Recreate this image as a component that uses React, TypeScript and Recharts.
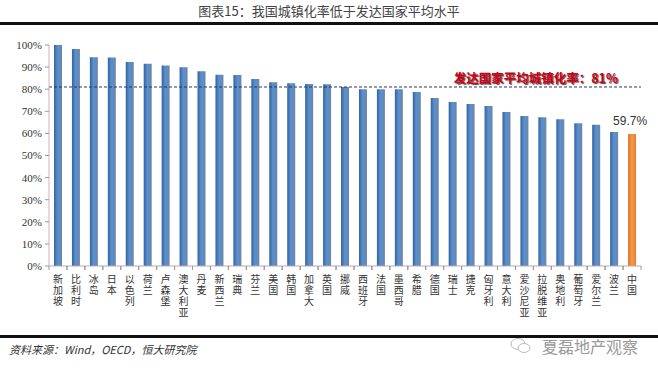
import React from 'react';
import { BarChart, Bar, XAxis, YAxis, ReferenceLine, Cell, LabelList } from 'recharts';

const countries = ['新加坡','比利时','冰岛','日本','以色列','荷兰','卢森堡','澳大利亚','丹麦','新西兰','瑞典','芬兰','美国','韩国','加拿大','英国','挪威','西班牙','法国','墨西哥','希腊','德国','瑞士','捷克','匈牙利','意大利','爱沙尼亚','拉脱维亚','奥地利','葡萄牙','爱尔兰','波兰','中国'];
const urbanRate = [100,98.2,94.5,94.3,92.3,91.5,90.7,89.9,88.1,86.5,86.4,84.6,83.2,82.7,82.3,82.2,81.0,80.0,80.0,80.0,78.7,76.0,74.2,73.3,72.4,69.7,67.9,67.3,66.4,64.6,63.9,60.6,59.7];
const yTicks = [0,10,20,30,40,50,60,70,80,90,100];
const developedAvg = 81;
const title = '图表15：我国城镇化率低于发达国家平均水平';
const avgLabel = '发达国家平均城镇化率：81%';
const source = '资料来源：Wind，OECD，恒大研究院';
const watermark = '夏磊地产观察';

const data = countries.map((c, i) => ({ name: c, value: urbanRate[i] }));
const HALF_BAND = 8.97;

const XTick = (props: any) => {
  const { x, y, payload } = props;
  const chars = String(payload.value).split('');
  const top = y - 8;
  return (
    <g>
      <line x1={x - HALF_BAND} x2={x - HALF_BAND} y1={top} y2={top + 4} stroke="#999" />
      <line x1={x + HALF_BAND} x2={x + HALF_BAND} y1={top} y2={top + 4} stroke="#999" />
      {chars.map((ch, i) => (
        <text key={i} x={x} y={top + 17 + i * 11} textAnchor="middle" fontSize={10} fill="#333" fontFamily="'Noto Sans CJK SC'">
          {ch}
        </text>
      ))}
    </g>
  );
};

const AvgLabel = (props: any) => {
  const { viewBox } = props;
  return (
    <text x={viewBox.x + viewBox.width - 23} y={viewBox.y - 4} textAnchor="end" fontSize={12.5} fontWeight="bold"
      fill="#d00018" fontFamily="'Noto Sans CJK SC'" style={{ textShadow: '1px 1px 1px #444' }}>
      {avgLabel}
    </text>
  );
};

const ChinaLabel = (props: any) => {
  const { x, y, width, index, value } = props;
  if (index !== countries.length - 1) return null;
  return (
    <text x={x + width / 2 - 2} y={y - 9} textAnchor="middle" fontSize={12} fill="#333" fontFamily="'Liberation Sans', Arial">
      {`${value}%`}
    </text>
  );
};

export default function App() {
  return (
    <div style={{ position: 'absolute', left: 0, top: 0, width: 658, height: 375, background: '#fff' }}>
      <div style={{ position: 'absolute', left: 0, top: 3, width: 658, textAlign: 'center', fontSize: 13, color: '#444', fontFamily: "'Noto Sans CJK SC'", lineHeight: '16px' }}>
        {title}
      </div>
      <div style={{ position: 'absolute', left: 0, top: 22, width: 658, height: 3, background: '#111' }} />
      <BarChart width={658} height={375} data={data} margin={{ top: 45, right: 17, bottom: 0, left: 0 }} barCategoryGap={0}>
        <defs>
          <linearGradient id="blueBar" x1="0" y1="0" x2="1" y2="0">
            <stop offset="0%" stopColor="#33629f" />
            <stop offset="45%" stopColor="#5a90d0" />
            <stop offset="100%" stopColor="#6a86a8" />
          </linearGradient>
          <linearGradient id="orangeBar" x1="0" y1="0" x2="1" y2="0">
            <stop offset="0%" stopColor="#e0702a" />
            <stop offset="50%" stopColor="#f79b45" />
            <stop offset="100%" stopColor="#e07f35" />
          </linearGradient>
        </defs>
        <XAxis dataKey="name" interval={0} tickLine={false} axisLine={{ stroke: '#b8a8b0' }} tick={<XTick />} height={109} />
        <YAxis domain={[0, 100]} ticks={yTicks} tickFormatter={(v: number) => `${v}%`} width={49}
          axisLine={{ stroke: '#c9b4bc' }} tickLine={{ stroke: '#999' }} tickSize={4} tickMargin={3}
          tick={{ fontSize: 11, fill: '#333', fontFamily: "'Liberation Serif', serif" }} />
        <ReferenceLine y={developedAvg} stroke="#2a3560" strokeDasharray="3 2" strokeWidth={1} label={<AvgLabel />} />
        <Bar dataKey="value" barSize={8} isAnimationActive={false}>
          {data.map((d, i) => (
            <Cell key={i} fill={i === data.length - 1 ? 'url(#orangeBar)' : 'url(#blueBar)'} />
          ))}
          <LabelList dataKey="value" content={<ChinaLabel />} />
        </Bar>
      </BarChart>
      <div style={{ position: 'absolute', left: 0, top: 335, width: 658, height: 3, background: '#111' }} />
      <div style={{ position: 'absolute', left: 9, top: 342, fontSize: 11, fontStyle: 'italic', color: '#333', fontFamily: "'Noto Sans CJK SC'", lineHeight: '14px' }}>
        {source}
      </div>
      <svg style={{ position: 'absolute', left: 509, top: 336 }} width={24} height={20}>
        <ellipse cx={9} cy={8} rx={7} ry={5.5} fill="none" stroke="#bbb" strokeWidth={1} />
        <ellipse cx={15} cy={12} rx={6} ry={4.5} fill="#fff" stroke="#bbb" strokeWidth={1} />
      </svg>
      <div style={{ position: 'absolute', left: 542, top: 336, fontSize: 16, color: '#999', fontFamily: "'Noto Sans CJK SC'", lineHeight: '20px' }}>
        {watermark}
      </div>
    </div>
  );
}
